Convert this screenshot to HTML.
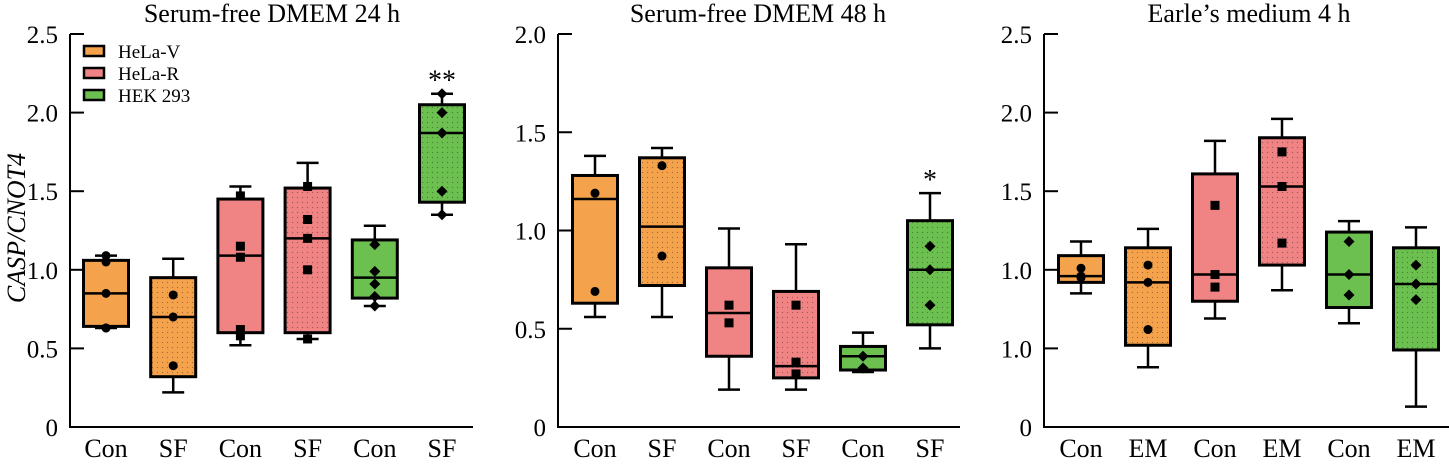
<!DOCTYPE html>
<html><head><meta charset="utf-8">
<style>
body{margin:0;background:#fff;}
svg{display:block;font-family:"Liberation Serif",serif;}
</style></head>
<body>
<svg id="chart" width="1449" height="464" viewBox="0 0 1449 464" xmlns="http://www.w3.org/2000/svg" font-family="Liberation Serif, serif">
<defs>
<pattern id="dots" width="5" height="5" patternUnits="userSpaceOnUse"><circle cx="2.5" cy="2.5" r="0.6" fill="#000" fill-opacity="0.35"/></pattern>
</defs>
</svg>
<script>
const panelTitles = ["Serum-free DMEM 24 h","Serum-free DMEM 48 h","Earle’s medium 4 h"];
const catLabels1 = ["Con","SF","Con","SF","Con","SF"];
const catLabels2 = ["Con","SF","Con","SF","Con","SF"];
const catLabels3 = ["Con","EM","Con","EM","Con","EM"];
const yTicks1 = [0,0.5,1.0,1.5,2.0,2.5];
const yTickLabels1 = ["0","0.5","1.0","1.5","2.0","2.5"];
const yTicks2 = [0,0.5,1.0,1.5,2.0];
const yTickLabels2 = ["0","0.5","1.0","1.5","2.0"];
const yTicks3 = [0,0.5,1.0,1.5,2.0,2.5];
const yTickLabels3 = ["0","1.0","1.0","1.5","2.0","2.5"];
// [whiskerLow, q1, median, q3, whiskerHigh]
const stats1 = [[0.63,0.64,0.85,1.06,1.09],[0.22,0.32,0.70,0.95,1.07],[0.52,0.60,1.09,1.45,1.53],[0.56,0.60,1.20,1.52,1.68],[0.77,0.82,0.95,1.19,1.28],[1.35,1.43,1.87,2.05,2.12]];
const points1 = [[1.09,1.05,0.85,0.63,0.63],[0.84,0.70,0.39],[1.47,1.15,1.08,0.62,0.58],[1.53,1.32,1.20,1.00,0.56],[1.16,0.99,0.91,0.83,0.77],[2.12,2.00,1.87,1.50,1.35]];
const stats2 = [[0.56,0.63,1.16,1.28,1.38],[0.56,0.72,1.02,1.37,1.42],[0.19,0.36,0.58,0.81,1.01],[0.19,0.25,0.31,0.69,0.93],[0.28,0.29,0.36,0.41,0.48],[0.40,0.52,0.80,1.05,1.19]];
const points2 = [[1.19,0.69],[1.33,0.87],[0.62,0.53],[0.62,0.33,0.27],[0.36,0.30],[0.92,0.80,0.62]];
const stats3 = [[0.85,0.92,0.96,1.09,1.18],[0.38,0.52,0.92,1.14,1.26],[0.69,0.80,0.97,1.61,1.82],[0.87,1.03,1.53,1.84,1.96],[0.66,0.76,0.97,1.24,1.31],[0.13,0.49,0.91,1.14,1.27]];
const points3 = [[1.01,0.96,0.95],[1.03,0.92,0.62],[1.41,0.97,0.89],[1.75,1.53,1.17],[1.18,0.97,0.84],[1.03,0.91,0.81]];
const signif1 = ["","","","","","**"];
const signif2 = ["","","","","","*"];
const signif3 = ["","","","","",""];
const legendLabels = ["HeLa-V","HeLa-R","HEK 293"];

const colors = ["#f5a24c","#f08383","#6cc04f"];
const markers = ["circle","square","diamond"];
const NS="http://www.w3.org/2000/svg";
const svg=document.getElementById('chart');
function mk(tag,attrs,parent){const e=document.createElementNS(NS,tag);for(const k in attrs)e.setAttribute(k,attrs[k]);(parent||svg).appendChild(e);return e;}

const panels=[
 {title:panelTitles[0],cats:catLabels1,ticks:yTicks1,tl:yTickLabels1,ymax:2.5,stats:stats1,pts:points1,sig:signif1,ax:70,x0:106,step:67.2,end:473,tx:272},
 {title:panelTitles[1],cats:catLabels2,ticks:yTicks2,tl:yTickLabels2,ymax:2.0,stats:stats2,pts:points2,sig:signif2,ax:558,x0:595,step:67,end:960,tx:758},
 {title:panelTitles[2],cats:catLabels3,ticks:yTicks3,tl:yTickLabels3,ymax:2.5,stats:stats3,pts:points3,sig:signif3,ax:1044,x0:1081,step:67,end:1449,tx:1249}
];
const Y0=427,Ytop=34;
panels.forEach((p,pi)=>{
 const g=mk('g',{});
 
 
 const ys=v=>Y0-(v/p.ymax)*(Y0-Ytop);
 const xs=i=>p.x0+i*p.step;
 const t=mk('text',{x:p.tx,y:22,'text-anchor':'middle','font-size':26},g);
 t.textContent=p.title;
 
 
 const axis=mk('path',{d:`M${p.ax},${Ytop} L${p.ax},${Y0} L${p.end},${Y0}`,stroke:'#000','stroke-width':2,fill:'none'},g);
 
 
 p.ticks.forEach((v,i)=>{
  mk('line',{x1:p.ax,x2:p.ax+14,y1:ys(v),y2:ys(v),stroke:'#000','stroke-width':2},g);
  const tl=mk('text',{x:p.ax-12,y:ys(v)+9,'text-anchor':'end','font-size':25},g);
  tl.textContent=p.tl[i];
  
  
 });
 p.cats.forEach((c,i)=>{
  const tl=mk('text',{x:xs(i),y:457,'text-anchor':'middle','font-size':26},g);
  tl.textContent=c;
  
  
 });
 p.stats.forEach((s,i)=>{
  const grp=Math.floor(i/2), x=xs(i), w=45;
  const bg=mk('g',{},g);
  
  
  mk('line',{x1:x,x2:x,y1:ys(s[0]),y2:ys(s[4]),stroke:'#000','stroke-width':2.5},bg);
  mk('line',{x1:x-11,x2:x+11,y1:ys(s[0]),y2:ys(s[0]),stroke:'#000','stroke-width':2.5},bg);
  mk('line',{x1:x-11,x2:x+11,y1:ys(s[4]),y2:ys(s[4]),stroke:'#000','stroke-width':2.5},bg);
  mk('rect',{x:x-w/2,y:ys(s[3]),width:w,height:ys(s[1])-ys(s[3]),fill:colors[grp],stroke:'#000','stroke-width':3},bg);
  if(i%2==1) mk('rect',{x:x-w/2,y:ys(s[3]),width:w,height:ys(s[1])-ys(s[3]),fill:'url(#dots)'},bg);
  mk('line',{x1:x-w/2,x2:x+w/2,y1:ys(s[2]),y2:ys(s[2]),stroke:'#000','stroke-width':2.5},bg);
  p.pts[i].forEach(v=>{
   const y=ys(v);let m;
   if(markers[grp]=='circle') m=mk('circle',{cx:x,cy:y,r:4.5,fill:'#000'},bg);
   else if(markers[grp]=='square') m=mk('rect',{x:x-4.5,y:y-4.5,width:9,height:9,fill:'#000'},bg);
   else m=mk('path',{d:`M${x},${y-5.5} L${x+5.5},${y} L${x},${y+5.5} L${x-5.5},${y}Z`,fill:'#000'},bg);
   
   
  });
  if(p.sig[i]){
   const st=mk('text',{x:x,y:ys(s[4])-4,'text-anchor':'middle','font-size':28},bg);
   st.textContent=p.sig[i];
   
   
  }
 });
});
// y axis title
const yt=mk('text',{transform:'translate(25,228) rotate(-90)','text-anchor':'middle','font-size':26,'font-style':'italic'});
yt.textContent='CASP/CNOT4';


// legend
const lg=mk('g',{});


legendLabels.forEach((l,i)=>{
 const e=mk('g',{},lg);
 
 
 mk('rect',{x:84,y:46+i*22,width:20,height:10,fill:colors[i],stroke:'#000','stroke-width':2.5},e);
 const tx=mk('text',{x:118,y:58+i*22,'font-size':19},e);
 tx.textContent=l;
});
</script>
</body></html>
